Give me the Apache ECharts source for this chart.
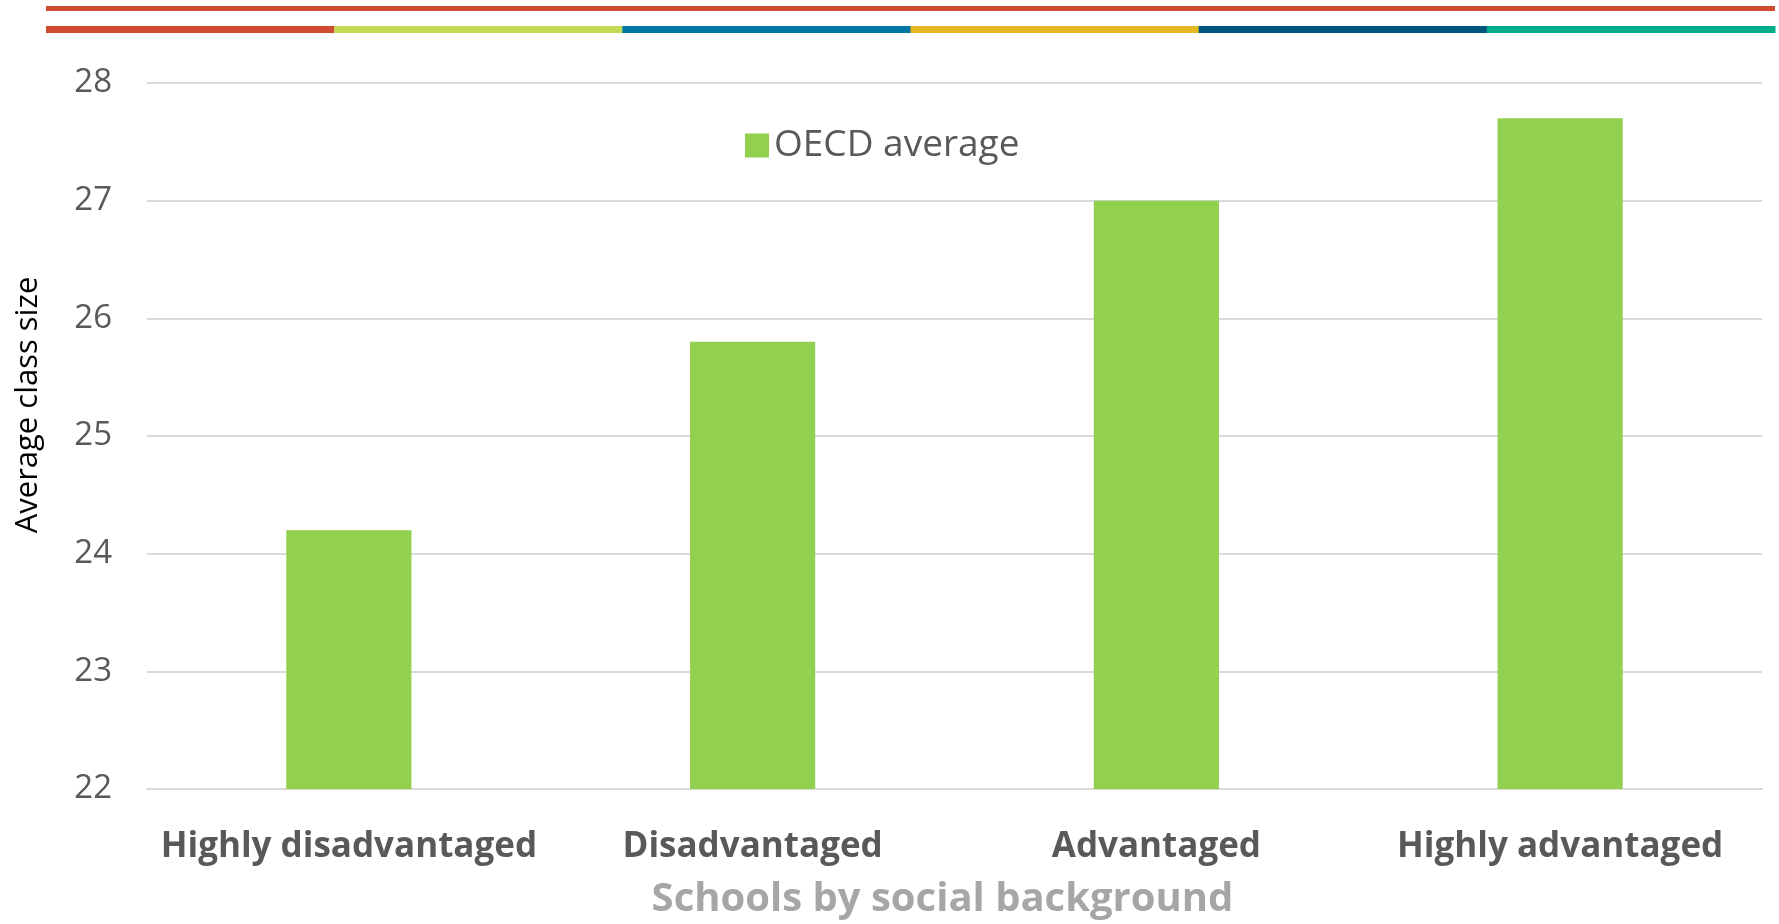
<!DOCTYPE html>
<html>
<head>
<meta charset="utf-8">
<script src="https://cdn.jsdelivr.net/npm/echarts@6/dist/echarts.min.js"></script>
<style>
html,body{margin:0;padding:0;background:#fff;}
#main{width:1779px;height:924px;}
</style>
</head>
<body>
<div id="main"></div>
<script>
var categories = ['Highly disadvantaged', 'Disadvantaged', 'Advantaged', 'Highly advantaged'];
var oecdAverage = [24.2, 25.8, 27.0, 27.7];
var stripeColors = ['#D14B33', '#C5DB53', '#0077A3', '#E5B823', '#00567F', '#00AD8A'];

var myChart = echarts.init(document.getElementById('main'));

// the two coloured stripes on top
var stripes = [{
    type: 'rect',
    shape: {x: 46, y: 6, width: 1729, height: 5},
    style: {fill: stripeColors[0]}
}];
var segW = 1729 / stripeColors.length;
for (var i = 0; i < stripeColors.length; i++) {
    stripes.push({
        type: 'rect',
        shape: {x: 46 + i * segW, y: 26, width: segW + 0.5, height: 7},
        style: {fill: stripeColors[i]}
    });
}

var option = {
    textStyle: {fontFamily: 'Open Sans'},
    graphic: stripes,
    legend: {
        left: 740,
        top: 122,
        icon: 'rect',
        itemWidth: 24,
        itemHeight: 24,
        itemGap: 10,
        textStyle: {fontSize: 37, color: '#595959', fontFamily: 'Open Sans'},
        data: ['OECD average']
    },
    grid: {left: 147, right: 17, top: 83, bottom: 135, outerBoundsMode: 'none', containLabel: false},
    xAxis: {
        type: 'category',
        data: categories,
        axisTick: {show: false},
        axisLine: {lineStyle: {color: '#D9D9D9', width: 2}},
        axisLabel: {interval: 0, fontSize: 35, fontWeight: 'bold', color: '#595959', margin: 41},
        name: 'Schools by social background',
        nameLocation: 'middle',
        nameGap: 91,
        nameTextStyle: {fontSize: 40, fontWeight: 'bold', color: '#A6A6A6', padding: [0, 24, 0, 0]}
    },
    yAxis: {
        type: 'value',
        min: 22,
        max: 28,
        interval: 1,
        axisLabel: {fontSize: 33, color: '#595959', margin: 35},
        splitLine: {lineStyle: {color: '#D9D9D9', width: 2}},
        name: 'Average class size',
        nameLocation: 'middle',
        nameGap: 103,
        nameTextStyle: {fontSize: 31, color: '#000', padding: [0, 0, 0, 62]}
    },
    series: [{
        name: 'OECD average',
        type: 'bar',
        data: oecdAverage,
        barWidth: '31%',
        itemStyle: {color: '#92D050'}
    }]
};
myChart.setOption(option);
</script>
</body>
</html>
